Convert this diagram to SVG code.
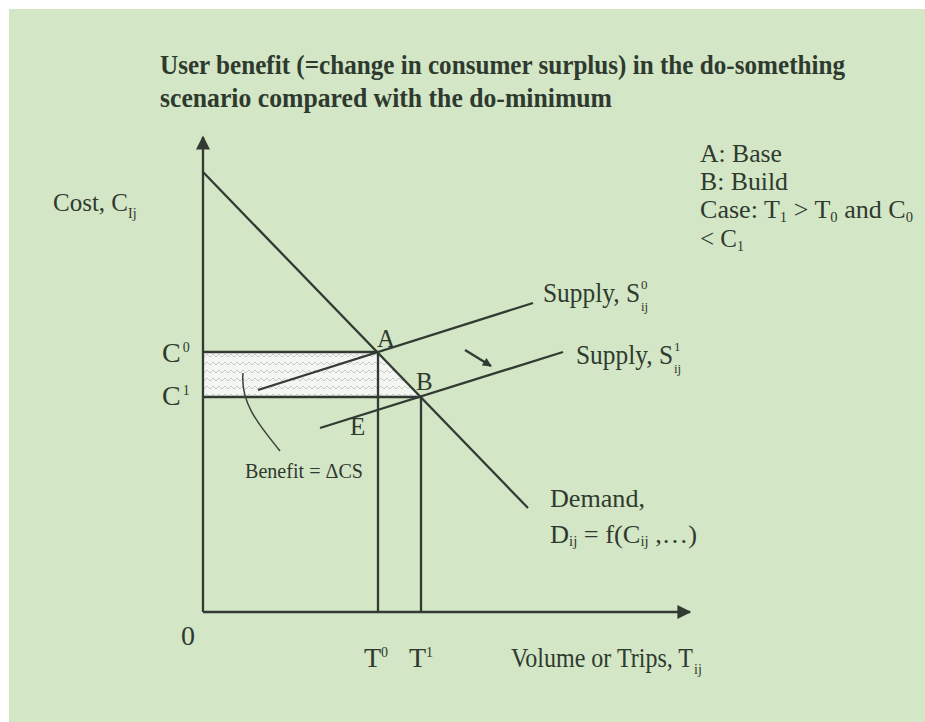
<svg xmlns="http://www.w3.org/2000/svg" width="925" height="722" viewBox="0 0 925 722">
<defs>
<style>
.t{font-family:"Liberation Serif","Times New Roman",serif;fill:#2f3a2f;font-size:25px}
.ttl{font-family:"Liberation Serif","Times New Roman",serif;font-weight:bold;fill:#2f3a2f;font-size:27px}
.ln{stroke:#333a33;stroke-width:2.3;fill:none}
.big{font-size:28px}
.sub{font-size:14px}
.ss{font-size:13px}
</style>
<pattern id="zz" width="12" height="8" patternUnits="userSpaceOnUse">
<rect width="12" height="8" fill="#f4f6f2"/>
<path d="M0 5 L3 2 L6 5 L9 2 L12 5" stroke="#c8cbc6" stroke-width="1" fill="none"/>
</pattern>
<marker id="ah" viewBox="0 0 10 10" refX="9" refY="5" markerWidth="10" markerHeight="9" markerUnits="userSpaceOnUse" orient="auto"><path d="M0 0 L10 5 L0 10 z" fill="#333a33"/></marker>
<marker id="axh" viewBox="0 0 10 10" refX="9" refY="5" markerWidth="22" markerHeight="14" markerUnits="userSpaceOnUse" orient="auto"><path d="M0 0 L10 5 L0 10 z" fill="#333a33"/></marker>
</defs>
<rect width="925" height="722" fill="#ffffff"/>
<rect x="9" y="9" width="916" height="713" fill="#d3e6c6"/>
<g id="title">
<text class="ttl" x="160" y="74" textLength="685" lengthAdjust="spacingAndGlyphs">User benefit (=change in consumer surplus) in the do-something</text>
<text class="ttl" x="160" y="107" textLength="452" lengthAdjust="spacingAndGlyphs">scenario compared with the do-minimum</text>
</g>
<g id="legend">
<text class="t" x="700" y="162" textLength="82" lengthAdjust="spacingAndGlyphs">A: Base</text>
<text class="t" x="700" y="190" textLength="88" lengthAdjust="spacingAndGlyphs">B: Build</text>
<text class="t" x="700" y="218" textLength="213" lengthAdjust="spacingAndGlyphs">Case: T<tspan class="sub" dy="4">1</tspan><tspan dy="-4"> &gt; T</tspan><tspan class="sub" dy="4">0</tspan><tspan dy="-4"> and C</tspan><tspan class="sub" dy="4">0</tspan></text>
<text class="t" x="700" y="247">&lt; C<tspan class="sub" dy="4">1</tspan></text>
</g>
<g id="benefit-area">
<polygon points="203,352 378,352 421,397 203,397" fill="url(#zz)"/>
</g>
<g id="connectors">
<line class="ln" x1="203" y1="612" x2="203" y2="137" marker-end="url(#axh)"/>
<line class="ln" x1="203" y1="612" x2="690" y2="612" marker-end="url(#axh)"/>
<line class="ln" x1="203" y1="172" x2="528" y2="508"/>
<line class="ln" x1="258" y1="390" x2="533" y2="303"/>
<line class="ln" x1="320" y1="428" x2="563" y2="352"/>
<line class="ln" x1="203" y1="352" x2="378" y2="352"/>
<line class="ln" x1="203" y1="397" x2="421" y2="397"/>
<line class="ln" x1="378" y1="352" x2="378" y2="612"/>
<line class="ln" x1="421" y1="397" x2="421" y2="612"/>
<line class="ln" x1="465" y1="350" x2="491" y2="366" marker-end="url(#ah)"/>
<path d="M243 373 C240 405 262 428 280 451" stroke="#3a423a" stroke-width="1.5" fill="none"/>
</g>
<g id="axis-labels">
<text class="t" x="53" y="211">Cost, C<tspan class="sub" dy="7">Ij</tspan></text>
<text class="t big" x="162" y="362">C<tspan class="sub" dx="2" dy="-10">0</tspan></text>
<text class="t big" x="162" y="405">C<tspan class="sub" dx="2" dy="-10">1</tspan></text>
<text class="t big" x="181" y="645">0</text>
<text class="t big" x="364" y="667">T<tspan class="sub" dy="-10">0</tspan></text>
<text class="t big" x="409" y="667">T<tspan class="sub" dy="-10">1</tspan></text>
<text class="t big" x="511" y="667" textLength="182" lengthAdjust="spacingAndGlyphs">Volume or Trips, T</text>
<text class="t sub" x="694" y="674">ij</text>
</g>
<g id="point-labels">
<text class="t" x="377" y="347">A</text>
<text class="t" x="416" y="390">B</text>
<text class="t" x="350" y="435">E</text>
<text class="t" x="245" y="478" style="font-size:22px" textLength="118" lengthAdjust="spacingAndGlyphs">Benefit = ΔCS</text>
</g>
<g id="curve-labels">
<text class="t" x="543" y="302" style="font-size:27px" textLength="97" lengthAdjust="spacingAndGlyphs">Supply, S</text>
<text class="t ss" x="641" y="289">0</text>
<text class="t ss" x="641" y="311">ij</text>
<text class="t" x="576" y="364" style="font-size:27px" textLength="97" lengthAdjust="spacingAndGlyphs">Supply, S</text>
<text class="t ss" x="674" y="351">1</text>
<text class="t ss" x="674" y="373">ij</text>
<text class="t" x="550" y="507" textLength="95" lengthAdjust="spacingAndGlyphs">Demand,</text>
<text class="t" x="550" y="543" textLength="147" lengthAdjust="spacingAndGlyphs">D<tspan class="sub" dy="3">ij</tspan><tspan dy="-3"> = f(C</tspan><tspan class="sub" dy="3">ij</tspan><tspan dy="-3"> ,…)</tspan></text>
</g>
</svg>
